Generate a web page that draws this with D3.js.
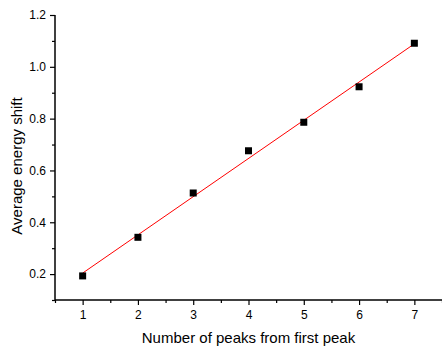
<!DOCTYPE html>
<html>
<head>
<meta charset="utf-8">
<script src="https://cdn.jsdelivr.net/npm/d3@7"></script>
<style>
  body { margin: 0; background: #fff; }
  svg { display: block; font-family: "Liberation Sans", Arial, sans-serif; }
</style>
</head>
<body>
<svg id="chart"></svg>
<script>
const peakNumbers = [1, 2, 3, 4, 5, 6, 7];
const energyShifts = [0.193, 0.342, 0.513, 0.676, 0.786, 0.923, 1.091];
const yTickValues = [0.2, 0.4, 0.6, 0.8, 1.0, 1.2];
const xTickValues = [1, 2, 3, 4, 5, 6, 7];

drawChart("chart");

function drawChart(id) {
  const width = 442,
    height = 347;
  const plot = { left: 55, right: 442, top: 15, bottom: 300 };

  const svg = d3.select(`svg#${id}`).attr("width", width).attr("height", height);

  const x = d3.scaleLinear().domain([0.5, 7.5]).range([plot.left, plot.right]);
  const y = d3.scaleLinear().domain([0.1, 1.2]).range([plot.bottom, plot.top]);

  // linear fit of the points
  const n = peakNumbers.length;
  const mx = d3.mean(peakNumbers),
    my = d3.mean(energyShifts);
  let sxy = 0,
    sxx = 0;
  peakNumbers.forEach((p, i) => {
    sxy += (p - mx) * (energyShifts[i] - my);
    sxx += (p - mx) * (p - mx);
  });
  const slope = sxy / sxx,
    intercept = my - slope * mx;
  const fitEnds = [peakNumbers[0], peakNumbers[n - 1]];

  // y axis
  const yMinor = d3.range(0.1, 1.25, 0.2).map((d) => +d.toFixed(2));
  const yAxis = svg.append("g").attr("transform", `translate(${plot.left},0)`);
  yAxis
    .call(d3.axisLeft(y).tickValues(yMinor).tickSize(3).tickFormat(""))
    .call((g) => g.select(".domain").remove());
  const yMajor = svg.append("g").attr("transform", `translate(${plot.left},0)`);
  yMajor
    .call(
      d3.axisLeft(y).tickValues(yTickValues).tickSize(5).tickPadding(4).tickFormat(d3.format(".1f"))
    )
    .call((g) => g.select(".domain").remove());
  yMajor.selectAll("text").style("font-size", "12px").style("font-family", "inherit").attr("fill", "#000");

  // x axis
  const xMinor = d3.range(0.5, 7.6, 1);
  svg
    .append("g")
    .attr("transform", `translate(0,${plot.bottom})`)
    .call(d3.axisBottom(x).tickValues(xMinor).tickSize(3).tickFormat(""))
    .call((g) => g.select(".domain").remove());
  const xMajor = svg.append("g").attr("transform", `translate(0,${plot.bottom})`);
  xMajor
    .call(d3.axisBottom(x).tickValues(xTickValues).tickSize(5).tickPadding(5).tickFormat(d3.format("d")))
    .call((g) => g.select(".domain").remove());
  xMajor.selectAll("text").style("font-size", "12px").style("font-family", "inherit").attr("fill", "#000");

  svg.selectAll(".tick line").attr("stroke", "#000").attr("stroke-width", 1.2);

  // axis lines
  svg
    .append("line")
    .attr("x1", plot.left)
    .attr("x2", plot.left)
    .attr("y1", plot.top)
    .attr("y2", plot.bottom)
    .attr("stroke", "#000")
    .attr("stroke-width", 1.5);
  svg
    .append("line")
    .attr("x1", plot.left)
    .attr("x2", plot.right)
    .attr("y1", plot.bottom)
    .attr("y2", plot.bottom)
    .attr("stroke", "#000")
    .attr("stroke-width", 1.5);

  // fit line
  svg
    .append("path")
    .attr("d", d3.line()(fitEnds.map((p) => [x(p), y(intercept + slope * p)])))
    .attr("fill", "none")
    .attr("stroke", "#ff0000")
    .attr("stroke-width", 1);

  // points
  const size = 7;
  svg
    .selectAll(".pt")
    .data(peakNumbers)
    .enter()
    .append("rect")
    .attr("class", "pt")
    .attr("x", (d) => x(d) - size / 2)
    .attr("y", (d, i) => y(energyShifts[i]) - size / 2)
    .attr("width", size)
    .attr("height", size)
    .attr("fill", "#000");

  // titles
  svg
    .append("text")
    .attr("x", (plot.left + plot.right) / 2)
    .attr("y", 343)
    .attr("text-anchor", "middle")
    .style("font-size", "15px")
    .text("Number of peaks from first peak");

  svg
    .append("text")
    .attr("transform", "translate(22,166) rotate(-90)")
    .attr("text-anchor", "middle")
    .style("font-size", "15px")
    .text("Average energy shift");
}
</script>
</body>
</html>
